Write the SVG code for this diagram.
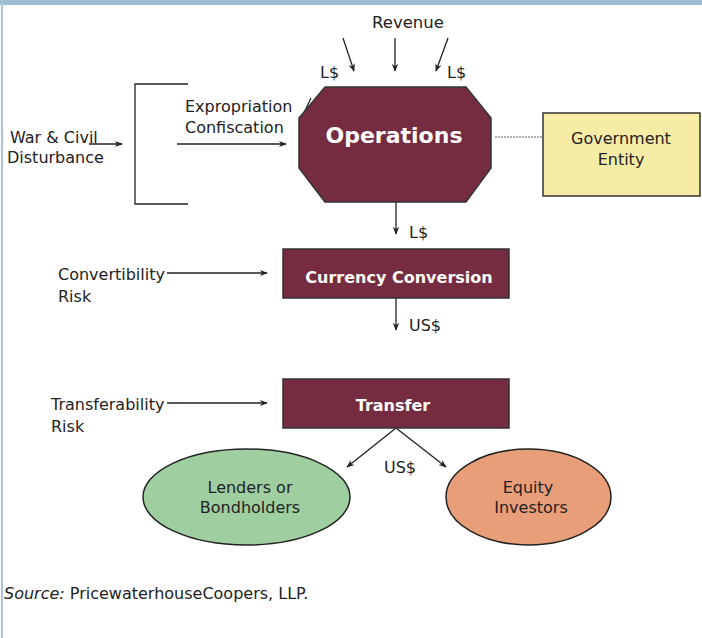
<svg xmlns="http://www.w3.org/2000/svg" width="702" height="638" viewBox="0 0 702 638">
<defs>
<style>
text{font-family:"DejaVu Sans","Liberation Sans",sans-serif;fill:#222}
.w{fill:#fff;font-weight:bold}
.c{text-anchor:middle}
.ln{stroke:#222;stroke-width:1.3;fill:none}
.box{fill:#762c40;stroke:#333;stroke-width:1.5}
</style>
<marker id="ah" viewBox="0 0 10 10" refX="9" refY="5" markerWidth="8" markerHeight="8" orient="auto" markerUnits="userSpaceOnUse">
<path d="M0,1 L10,5 L0,9 L3,5 Z" fill="#222"/>
</marker>
</defs>
<rect width="702" height="638" fill="#fff"/>
<rect x="0" y="0" width="702" height="5" fill="#9dbcd4"/>
<rect x="1" y="0" width="2" height="638" fill="#a9c4da"/>

<g id="connectors">
<line class="ln" x1="343" y1="38" x2="354" y2="71" marker-end="url(#ah)"/>
<line class="ln" x1="395" y1="38" x2="395" y2="71" marker-end="url(#ah)"/>
<line class="ln" x1="448" y1="38" x2="436" y2="71" marker-end="url(#ah)"/>
<line class="ln" x1="311" y1="98" x2="304" y2="113"/>
<polyline class="ln" points="188,84 135,84 135,204 188,204"/>
<line class="ln" x1="89" y1="144" x2="122" y2="144" marker-end="url(#ah)"/>
<line class="ln" x1="177" y1="144" x2="286" y2="144" marker-end="url(#ah)"/>
<line x1="495" y1="137" x2="547" y2="137" stroke="#666" stroke-width="1" stroke-dasharray="2,1"/>
<line class="ln" x1="396" y1="202" x2="396" y2="234" marker-end="url(#ah)"/>
<line class="ln" x1="167" y1="273" x2="267" y2="273" marker-end="url(#ah)"/>
<line class="ln" x1="396" y1="298" x2="396" y2="330" marker-end="url(#ah)"/>
<line class="ln" x1="167" y1="403" x2="267" y2="403" marker-end="url(#ah)"/>
<line class="ln" x1="396" y1="428" x2="347" y2="467" marker-end="url(#ah)"/>
<line class="ln" x1="396" y1="428" x2="446" y2="467" marker-end="url(#ah)"/>
</g>

<g id="labels">
<text class="c" x="408" y="28" style="font-size:16.5px">Revenue</text>
<text x="320" y="78" style="font-size:16px">L$</text>
<text x="447" y="78" style="font-size:16px">L$</text>
<text x="185" y="112" style="font-size:16px">Expropriation</text>
<text x="185" y="133" style="font-size:16px">Confiscation</text>
<text x="10" y="143" style="font-size:16px">War &amp; Civil</text>
<text x="7" y="163" style="font-size:16px">Disturbance</text>
<text x="409" y="238" style="font-size:16px">L$</text>
<text x="409" y="331" style="font-size:16px">US$</text>
<text x="58" y="280" style="font-size:16px">Convertibility</text>
<text x="58" y="302" style="font-size:16px">Risk</text>
<text x="51" y="410" style="font-size:16px">Transferability</text>
<text x="51" y="432" style="font-size:16px">Risk</text>
<text x="384" y="473" style="font-size:16px">US$</text>
<text x="4" y="599" style="font-size:16px"><tspan font-style="italic">Source:</tspan> PricewaterhouseCoopers, LLP.</text>
</g>

<g id="operations">
<polygon class="box" points="325,87 466,87 491,118 491,168 466,202 325,202 299,168 299,118"/>
<text class="w c" x="394" y="143" style="font-size:22px">Operations</text>
</g>

<g id="government">
<rect x="543" y="113" width="157" height="83" fill="#f7eca6" stroke="#333" stroke-width="1.5"/>
<text class="c" x="621" y="144" style="font-size:16px">Government</text>
<text class="c" x="621" y="165" style="font-size:16px">Entity</text>
</g>

<g id="currency">
<rect class="box" x="283" y="249" width="226" height="49"/>
<text class="w c" x="399" y="283" style="font-size:16px">Currency Conversion</text>
</g>

<g id="transfer">
<rect class="box" x="283" y="379" width="226" height="49"/>
<text class="w c" x="393" y="411" style="font-size:16px">Transfer</text>
</g>

<g id="lenders">
<ellipse cx="246.5" cy="497" rx="103.5" ry="48" fill="#9fcfa1" stroke="#222" stroke-width="1.5"/>
<text class="c" x="250" y="493" style="font-size:16px">Lenders or</text>
<text class="c" x="250" y="513" style="font-size:16px">Bondholders</text>
</g>

<g id="equity">
<ellipse cx="528.5" cy="497" rx="82.5" ry="48" fill="#e89e78" stroke="#222" stroke-width="1.5"/>
<text class="c" x="528" y="493" style="font-size:16px">Equity</text>
<text class="c" x="531" y="513" style="font-size:16px">Investors</text>
</g>
</svg>
